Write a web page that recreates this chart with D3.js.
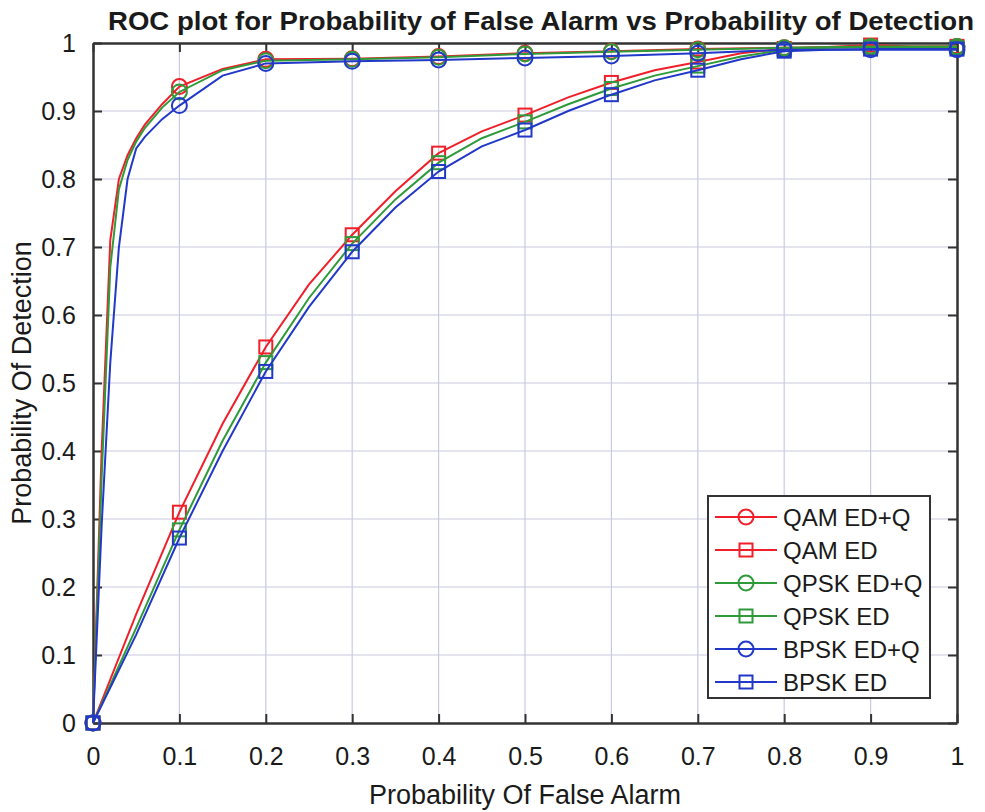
<!DOCTYPE html>
<html>
<head>
<meta charset="utf-8">
<script src="https://cdn.jsdelivr.net/npm/d3@7"></script>
<style>
  body { margin: 0; background: #fff; }
  text { font-family: "Liberation Sans", Arial, sans-serif; fill: #1a1a1a; }
</style>
</head>
<body>
<div id="chartArea"></div>
<script>
// false alarm grids
var pfaQ = [0, 0.01, 0.02, 0.03, 0.04, 0.05, 0.06, 0.08, 0.1, 0.15, 0.2, 0.3, 0.4, 0.5, 0.6, 0.7, 0.8, 0.9, 1];
var pfaE = [0, 0.05, 0.1, 0.15, 0.2, 0.25, 0.3, 0.35, 0.4, 0.45, 0.5, 0.55, 0.6, 0.65, 0.7, 0.75, 0.8, 0.85, 0.9, 0.95, 1];
var markerAt = [0, 0.1, 0.2, 0.3, 0.4, 0.5, 0.6, 0.7, 0.8, 0.9, 1];

// detection probabilities
var qamEDQ  = [0, 0.40, 0.71, 0.80, 0.835, 0.86, 0.88, 0.91, 0.936, 0.962, 0.976, 0.977, 0.980, 0.985, 0.988, 0.991, 0.993, 0.994, 0.995];
var qpskEDQ = [0, 0.36, 0.67, 0.785, 0.828, 0.855, 0.875, 0.905, 0.928, 0.960, 0.974, 0.976, 0.979, 0.984, 0.987, 0.990, 0.993, 0.995, 0.995];
var bpskEDQ = [0, 0.29, 0.53, 0.70, 0.80, 0.845, 0.862, 0.888, 0.908, 0.952, 0.970, 0.973, 0.975, 0.978, 0.981, 0.985, 0.990, 0.990, 0.990];

var qamED  = [0, 0.16, 0.310, 0.44, 0.553, 0.645, 0.718, 0.782, 0.838, 0.870, 0.894, 0.920, 0.942, 0.960, 0.972, 0.985, 0.992, 0.994, 0.997, 0.995, 0.995];
var qpskED = [0, 0.14, 0.284, 0.415, 0.530, 0.625, 0.705, 0.770, 0.824, 0.860, 0.884, 0.910, 0.933, 0.952, 0.966, 0.980, 0.990, 0.993, 0.994, 0.994, 0.993];
var bpskED = [0, 0.13, 0.272, 0.400, 0.517, 0.612, 0.693, 0.758, 0.811, 0.848, 0.872, 0.900, 0.924, 0.945, 0.960, 0.976, 0.988, 0.990, 0.991, 0.991, 0.991];

var seriesNames = ['QAM ED+Q', 'QAM ED', 'QPSK ED+Q', 'QPSK ED', 'BPSK ED+Q', 'BPSK ED'];
var xTicks = [0, 0.1, 0.2, 0.3, 0.4, 0.5, 0.6, 0.7, 0.8, 0.9, 1];
var yTicks = [0, 0.1, 0.2, 0.3, 0.4, 0.5, 0.6, 0.7, 0.8, 0.9, 1];

var red = '#f0202a', green = '#2f9a3a', blue = '#2238c8';
var series = [
    {name: seriesNames[0], x: pfaQ, y: qamEDQ, color: red, shape: 'circle'},
    {name: seriesNames[1], x: pfaE, y: qamED, color: red, shape: 'square'},
    {name: seriesNames[2], x: pfaQ, y: qpskEDQ, color: green, shape: 'circle'},
    {name: seriesNames[3], x: pfaE, y: qpskED, color: green, shape: 'square'},
    {name: seriesNames[4], x: pfaQ, y: bpskEDQ, color: blue, shape: 'circle'},
    {name: seriesNames[5], x: pfaE, y: bpskED, color: blue, shape: 'square'}
];

var margin = {top: 43, right: 28, bottom: 89, left: 93};
var W = 985, H = 812;
var w = W - margin.left - margin.right,
    h = H - margin.top - margin.bottom;

var svg = d3.select('#chartArea').append('svg')
    .attr('width', W)
    .attr('height', H);

var g = svg.append('g')
    .attr('transform', 'translate(' + margin.left + ',' + margin.top + ')');

var xScale = d3.scaleLinear().domain([0, 1]).range([0, w]);
var yScale = d3.scaleLinear().domain([0, 1]).range([h, 0]);

// grid
g.append('g').selectAll('line.vg')
    .data(xTicks.slice(1, -1)).enter().append('line')
    .attr('x1', xScale).attr('x2', xScale)
    .attr('y1', 0).attr('y2', h)
    .attr('stroke', '#c9c9e4').attr('stroke-width', 1.2);
g.append('g').selectAll('line.hg')
    .data(yTicks.slice(1, -1)).enter().append('line')
    .attr('y1', yScale).attr('y2', yScale)
    .attr('x1', 0).attr('x2', w)
    .attr('stroke', '#c9c9e4').attr('stroke-width', 1.2);

// axes
var fmt = function(d) { return d === 0 || d === 1 ? String(d) : d3.format('.1f')(d); };
var xAxis = d3.axisBottom(xScale).tickValues(xTicks).tickFormat(fmt).tickSizeInner(-9).tickSizeOuter(0).tickPadding(24);
var yAxis = d3.axisLeft(yScale).tickValues(yTicks).tickFormat(fmt).tickSizeInner(-9).tickSizeOuter(0).tickPadding(17);

var gx = g.append('g').attr('transform', 'translate(0,' + h + ')').call(xAxis);
var gy = g.append('g').call(yAxis);
g.append('g').call(d3.axisTop(xScale).tickValues(xTicks).tickFormat('').tickSizeInner(-9).tickSizeOuter(0));
g.append('g').attr('transform', 'translate(' + w + ',0)')
    .call(d3.axisRight(yScale).tickValues(yTicks).tickFormat('').tickSizeInner(-9).tickSizeOuter(0));

g.selectAll('.domain').attr('stroke', '#333').attr('stroke-width', 2.5);
g.selectAll('.tick line').attr('stroke', '#333').attr('stroke-width', 2);
g.selectAll('.tick text').style('font-size', '25px').attr('fill', '#1a1a1a');

// lines
var line = d3.line()
    .x(function(d) { return xScale(d[0]); })
    .y(function(d) { return yScale(d[1]); });

function drawMarker(sel, shape, color) {
    if (shape === 'circle') {
        sel.append('circle').attr('r', 7.5)
            .attr('fill', 'none').attr('stroke', color).attr('stroke-width', 2);
    } else {
        sel.append('rect').attr('x', -6.5).attr('y', -6.5).attr('width', 13).attr('height', 13)
            .attr('fill', 'none').attr('stroke', color).attr('stroke-width', 2);
    }
}

series.forEach(function(s) {
    var pts = s.x.map(function(x, i) { return [x, s.y[i]]; });
    g.append('path').datum(pts)
        .attr('d', line)
        .attr('fill', 'none')
        .attr('stroke', s.color)
        .attr('stroke-width', 2);
    var mk = pts.filter(function(p) { return markerAt.indexOf(p[0]) >= 0; });
    g.append('g').selectAll('g')
        .data(mk).enter().append('g')
        .attr('transform', function(d) { return 'translate(' + xScale(d[0]) + ',' + yScale(d[1]) + ')'; })
        .each(function() { drawMarker(d3.select(this), s.shape, s.color); });
});

// title and labels
svg.append('text')
    .attr('x', 541).attr('y', 30)
    .attr('text-anchor', 'middle')
    .attr('textLength', 866).attr('lengthAdjust', 'spacingAndGlyphs')
    .style('font-size', '25px').style('font-weight', 'bold')
    .text('ROC plot for Probability of False Alarm vs Probability of Detection');

svg.append('text')
    .attr('x', margin.left + w / 2).attr('y', 804)
    .attr('text-anchor', 'middle')
    .style('font-size', '27px')
    .text('Probability Of False Alarm');

svg.append('text')
    .attr('transform', 'translate(31,' + (margin.top + h / 2) + ') rotate(-90)')
    .attr('text-anchor', 'middle')
    .style('font-size', '27px')
    .text('Probability Of Detection');

// legend
var lg = svg.append('g').attr('transform', 'translate(708,496)');
lg.append('rect').attr('width', 222).attr('height', 202)
    .attr('fill', '#fff').attr('stroke', '#333').attr('stroke-width', 2);
var item = lg.selectAll('g.item').data(series).enter().append('g')
    .attr('transform', function(d, i) { return 'translate(0,' + (21 + i * 33) + ')'; });
item.append('line').attr('x1', 7).attr('x2', 69).attr('y1', 0).attr('y2', 0)
    .attr('stroke', function(d) { return d.color; }).attr('stroke-width', 2);
item.each(function(d) {
    var m = d3.select(this).append('g').attr('transform', 'translate(38,0)');
    drawMarker(m, d.shape, d.color);
});
item.append('text').attr('x', 75).attr('y', 8.5)
    .style('font-size', '24px')
    .text(function(d) { return d.name; });
</script>
</body>
</html>
